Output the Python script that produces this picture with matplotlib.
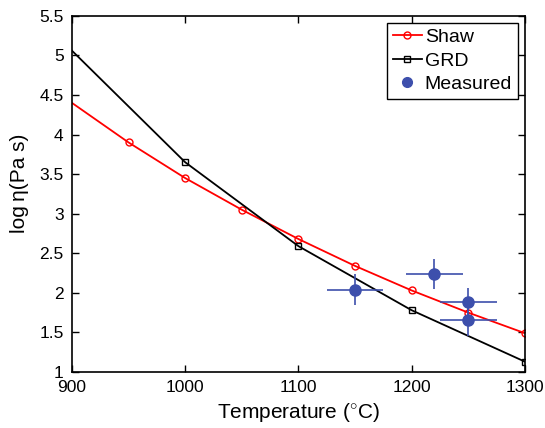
import numpy as np
import matplotlib.pyplot as plt

plt.rcParams['font.family'] = ['Liberation Sans', 'DejaVu Sans']
plt.rcParams['mathtext.fontset'] = 'custom'
plt.rcParams['mathtext.rm'] = 'Liberation Sans'
plt.rcParams['mathtext.it'] = 'Liberation Sans:italic'

# Shaw model
shaw_T = [900, 950, 1000, 1050, 1100, 1150, 1200, 1250, 1300]
shaw_eta = [4.40, 3.90, 3.45, 3.05, 2.68, 2.34, 2.03, 1.75, 1.49]

# GRD model
grd_T = [900, 1000, 1100, 1200, 1300]
grd_eta = [5.06, 3.65, 2.59, 1.78, 1.13]

# measurements
meas_T = [1150, 1220, 1250, 1250]
meas_eta = [2.04, 2.24, 1.89, 1.66]
meas_Terr = [25, 25, 25, 25]
meas_etaerr = [0.20, 0.19, 0.17, 0.20]

blue = '#3d4fac'

fig = plt.figure(figsize=(5.45, 4.28), dpi=100)
ax = fig.add_axes([0.132, 0.131, 0.831, 0.832])

# line first, markers only where model points are (not at 900)
ax.plot(shaw_T, shaw_eta, '-', color='red', lw=1.3)
ax.plot(shaw_T[1:], shaw_eta[1:], 'o', color='red', mfc='none', ms=5, mew=1.0)
ax.plot(grd_T, grd_eta, '-', color='black', lw=1.3)
ax.plot(grd_T[1:], grd_eta[1:], 's', color='black', mfc='none', ms=4, mew=1.0)
ax.errorbar(meas_T, meas_eta, xerr=meas_Terr, yerr=meas_etaerr, fmt='none',
            ecolor=blue, elinewidth=1.2, capsize=0)
ax.plot(meas_T, meas_eta, 'o', color=blue, ms=8, ls='none')

# legend handles
h1, = ax.plot([], [], '-o', color='red', mfc='none', ms=5, lw=1.3, label='Shaw')
h2, = ax.plot([], [], '-s', color='black', mfc='none', ms=4, lw=1.3, label='GRD')
h3, = ax.plot([], [], 'o', color=blue, ms=7, ls='none', label='Measured')
leg = ax.legend(handles=[h1, h2, h3], loc='upper right', fontsize=14,
                fancybox=False, edgecolor='black', framealpha=1,
                handlelength=1.5, handletextpad=0.15, borderpad=0.3,
                labelspacing=0.3, borderaxespad=0.35)
leg.get_frame().set_linewidth(1.0)

ax.set_xlim(900, 1300)
ax.set_ylim(1, 5.5)
ax.set_xticks([900, 1000, 1100, 1200, 1300])
ax.set_yticks([1, 1.5, 2, 2.5, 3, 3.5, 4, 4.5, 5, 5.5])
ax.set_yticklabels(['1', '1.5', '2', '2.5', '3', '3.5', '4', '4.5', '5', '5.5'])
ax.tick_params(direction='in', top=True, right=True, labelsize=12.5, length=5,
               width=1, pad=6)
for s in ax.spines.values():
    s.set_linewidth(1.2)

ax.set_xlabel('Temperature ($^{\\circ}$C)', fontsize=15, labelpad=4)
ax.set_ylabel('log\u2009η(Pa s)', fontsize=15)
ax.yaxis.set_label_coords(-0.095, 0.53)

fig.savefig('out.png', dpi=100)
